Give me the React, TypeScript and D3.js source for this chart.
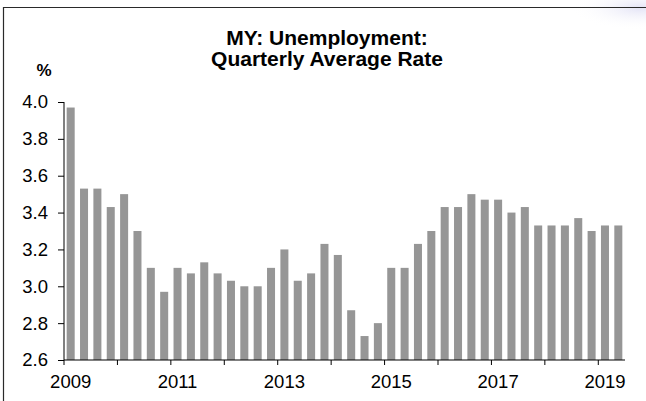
import React, { useRef, useEffect } from 'react';
import * as d3 from 'd3';

// Quarterly average unemployment rate, 2009Q1 - 2019Q2
const quarters = d3.range(42).map(i => `${2009 + Math.floor(i / 4)}Q${(i % 4) + 1}`);
const rates = [
  3.97, 3.53, 3.53, 3.43,
  3.50, 3.30, 3.10, 2.97,
  3.10, 3.07, 3.13, 3.07,
  3.03, 3.00, 3.00, 3.10,
  3.20, 3.03, 3.07, 3.23,
  3.17, 2.87, 2.73, 2.80,
  3.10, 3.10, 3.23, 3.30,
  3.43, 3.43, 3.50, 3.47,
  3.47, 3.40, 3.43, 3.33,
  3.33, 3.33, 3.37, 3.30,
  3.33, 3.33,
];
const yTicks = [2.6, 2.8, 3.0, 3.2, 3.4, 3.6, 3.8, 4.0];
const yearLabels = ['2009', '2011', '2013', '2015', '2017', '2019'];

const width = 646;
const height = 401;
const font = '"Liberation Sans", Arial, sans-serif';

const App: React.FC = () => {
  const svgRef = useRef<SVGSVGElement>(null);

  useEffect(() => {
    if (!svgRef.current) return;
    const svg = d3.select(svgRef.current);
    svg.selectAll('*').remove();

    const left = 64, right = 625, top = 102, bottom = 360;

    // faint watermark glow top right
    const defs = svg.append('defs');
    const grad = defs.append('radialGradient').attr('id', 'glow');
    grad.append('stop').attr('offset', '0%').attr('stop-color', '#e4e4f6');
    grad.append('stop').attr('offset', '100%').attr('stop-color', '#ffffff').attr('stop-opacity', 0);
    svg.append('ellipse')
      .attr('cx', 640).attr('cy', 8).attr('rx', 70).attr('ry', 22)
      .attr('fill', 'url(#glow)');

    // frame
    svg.append('path')
      .attr('d', `M3.5,${height} V7.5 H${width}`)
      .attr('fill', 'none')
      .attr('stroke', '#2a2a2a')
      .attr('stroke-width', 1.2);

    const x = d3.scaleBand<string>()
      .domain(quarters)
      .range([left, right])
      .paddingInner(0.4)
      .paddingOuter(0.2);
    const step = x.step();

    const y = d3.scaleLinear().domain([2.6, 4.0]).range([bottom, top]);

    // bars
    svg.append('g')
      .selectAll('rect')
      .data(rates)
      .join('rect')
      .attr('x', (d, i) => x(quarters[i])!)
      .attr('y', d => y(d))
      .attr('width', x.bandwidth())
      .attr('height', d => y(2.6) - y(d))
      .attr('fill', '#969696');

    // y axis
    const yAxis = svg.append('g')
      .attr('transform', `translate(${left},0)`)
      .call(d3.axisLeft(y).tickValues(yTicks).tickFormat(d3.format('.1f')).tickSize(6).tickPadding(10));
    yAxis.select('.domain').attr('stroke', '#000').attr('d', `M0,${top}V${bottom}`);
    yAxis.selectAll('.tick line').attr('stroke', '#000');
    yAxis.selectAll('text')
      .attr('font-family', font)
      .attr('font-size', '18.5px')
      .attr('fill', '#000');

    // x axis with year boundary ticks
    const xg = svg.append('g');
    xg.append('line')
      .attr('x1', left).attr('x2', right)
      .attr('y1', bottom).attr('y2', bottom)
      .attr('stroke', '#000');
    d3.range(0, 41, 4).forEach(i => {
      const tx = x(quarters[i])! - (step - x.bandwidth()) / 2;
      xg.append('line')
        .attr('x1', tx).attr('x2', tx)
        .attr('y1', bottom).attr('y2', bottom + 5)
        .attr('stroke', '#000');
    });
    yearLabels.forEach(yr => {
      const q = `${yr}Q1`;
      xg.append('text')
        .attr('x', x(q)! + x.bandwidth() / 2)
        .attr('y', 388)
        .attr('text-anchor', 'middle')
        .attr('font-family', font)
        .attr('font-size', '18.5px')
        .attr('fill', '#000')
        .text(yr);
    });

    // title
    const title = svg.append('text')
      .attr('x', 327)
      .attr('text-anchor', 'middle')
      .attr('font-family', font)
      .attr('font-size', '21px')
      .attr('font-weight', 700)
      .attr('fill', '#000');
    title.append('tspan').attr('x', 327).attr('y', 45).text('MY: Unemployment:');
    title.append('tspan').attr('x', 327).attr('y', 66).text('Quarterly Average Rate');

    svg.append('text')
      .attr('x', 44)
      .attr('y', 76)
      .attr('text-anchor', 'middle')
      .attr('font-family', font)
      .attr('font-size', '17px')
      .attr('font-weight', 700)
      .attr('fill', '#000')
      .text('%');
  }, []);

  return (
    <svg
      ref={svgRef}
      width={width}
      height={height}
      style={{ position: 'absolute', left: 0, top: 0, background: '#fff' }}
    />
  );
};

export default App;
